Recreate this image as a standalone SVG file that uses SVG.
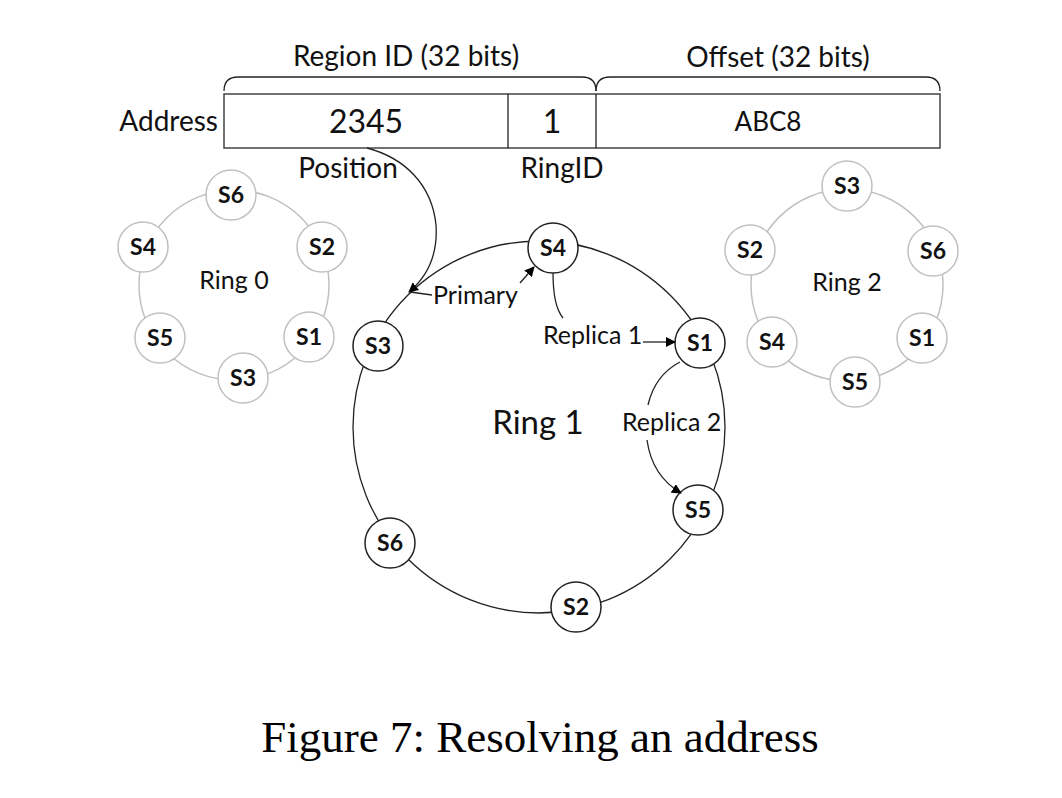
<svg xmlns="http://www.w3.org/2000/svg" width="1062" height="798" viewBox="0 0 1062 798">
<defs>
<marker id="ah" viewBox="0 0 10 10" refX="9" refY="5" markerWidth="10" markerHeight="10" markerUnits="userSpaceOnUse" orient="auto">
<path d="M0,0 L10,5 L0,10 Z" fill="#000"/>
</marker>
<style>
.lbl{font-family:Lato,"Open Sans",sans-serif;font-size:28px;fill:#111}
.big{font-family:Lato,"Open Sans",sans-serif;font-size:32px;fill:#111}
.sm{font-family:Lato,"Open Sans",sans-serif;font-size:25px;fill:#111}
.nt{font-family:Lato,"Open Sans",sans-serif;font-size:23px;font-weight:bold;fill:#111;text-anchor:middle}
.gring{fill:none;stroke:#c0c0c0;stroke-width:1.5}
.gnode circle{fill:#fff;stroke:#c0c0c0;stroke-width:1.5}
.bnode circle{fill:#fff;stroke:#222;stroke-width:1.5}
.box{fill:#fff;stroke:#444;stroke-width:1.5}
.ln{fill:none;stroke:#222;stroke-width:1.3}
</style>
</defs>
<rect width="1062" height="798" fill="#fff"/>

<!-- header -->
<g id="header">
<text class="lbl" x="406" y="66" text-anchor="middle">Region ID (32 bits)</text>
<text class="lbl" x="778" y="67" text-anchor="middle">Offset (32 bits)</text>
<path class="ln" d="M224,91 Q224,77 238,77 L582,77 Q596,77 596,91"/>
<path class="ln" d="M596,91 Q596,77 610,77 L926,77 Q940,77 940,91"/>
</g>
<g id="address">
<text class="lbl" x="218" y="131" text-anchor="end">Address</text>
<rect class="box" x="224" y="94" width="716" height="54"/>
<line class="ln" x1="508" y1="94" x2="508" y2="148"/>
<line class="ln" x1="596" y1="94" x2="596" y2="148"/>
<text class="big" x="366" y="133" text-anchor="middle">2345</text>
<text class="big" x="552" y="133" text-anchor="middle">1</text>
<text class="sm" x="768" y="131" text-anchor="middle" style="font-size:26px">ABC8</text>
<text class="lbl" x="348" y="178" text-anchor="middle">Position</text>
<text class="lbl" x="562" y="178" text-anchor="middle">RingID</text>
</g>

<!-- Ring 0 -->
<g id="ring0">
<circle class="gring" cx="234" cy="285" r="95"/>
<text class="sm" x="234" y="289" text-anchor="middle">Ring 0</text>
<g class="gnode" id="r0s6"><circle cx="231" cy="195" r="25"/><text class="nt" x="231" y="203">S6</text></g>
<g class="gnode" id="r0s4"><circle cx="143" cy="247" r="25"/><text class="nt" x="143" y="255">S4</text></g>
<g class="gnode" id="r0s2"><circle cx="322" cy="247" r="25"/><text class="nt" x="322" y="255">S2</text></g>
<g class="gnode" id="r0s5"><circle cx="160" cy="338" r="25"/><text class="nt" x="160" y="346">S5</text></g>
<g class="gnode" id="r0s1"><circle cx="309" cy="337" r="25"/><text class="nt" x="309" y="345">S1</text></g>
<g class="gnode" id="r0s3"><circle cx="243" cy="378" r="25"/><text class="nt" x="243" y="386">S3</text></g>
</g>

<!-- Ring 2 -->
<g id="ring2">
<circle class="gring" cx="847" cy="285" r="96"/>
<text class="sm" x="847" y="291" text-anchor="middle">Ring 2</text>
<g class="gnode" id="r2s3"><circle cx="847" cy="186" r="25"/><text class="nt" x="847" y="194">S3</text></g>
<g class="gnode" id="r2s2"><circle cx="750" cy="250" r="25"/><text class="nt" x="750" y="258">S2</text></g>
<g class="gnode" id="r2s6"><circle cx="933" cy="251" r="25"/><text class="nt" x="933" y="259">S6</text></g>
<g class="gnode" id="r2s4"><circle cx="772" cy="342" r="25"/><text class="nt" x="772" y="350">S4</text></g>
<g class="gnode" id="r2s1"><circle cx="922" cy="338" r="25"/><text class="nt" x="922" y="346">S1</text></g>
<g class="gnode" id="r2s5"><circle cx="855" cy="382" r="25"/><text class="nt" x="855" y="390">S5</text></g>
</g>

<!-- Ring 1 -->
<g id="ring1">
<circle cx="539" cy="427" r="186" fill="none" stroke="#222" stroke-width="1.3"/>
<text class="big" x="538" y="434" text-anchor="middle" style="font-size:33px">Ring 1</text>
<g class="bnode" id="r1s4"><circle cx="553" cy="248" r="25"/><text class="nt" x="553" y="256">S4</text></g>
<g class="bnode" id="r1s3"><circle cx="378" cy="346" r="25"/><text class="nt" x="378" y="354">S3</text></g>
<g class="bnode" id="r1s1"><circle cx="700" cy="343" r="25"/><text class="nt" x="700" y="351">S1</text></g>
<g class="bnode" id="r1s5"><circle cx="698" cy="510" r="25"/><text class="nt" x="698" y="518">S5</text></g>
<g class="bnode" id="r1s6"><circle cx="390" cy="543" r="25"/><text class="nt" x="390" y="551">S6</text></g>
<g class="bnode" id="r1s2"><circle cx="576" cy="607" r="25"/><text class="nt" x="576" y="615">S2</text></g>
</g>

<!-- connectors -->
<g id="connectors">
<path class="ln" d="M367,148 C405,158 432,185 436,225 C438,255 428,276 409,292" marker-end="url(#ah)"/>
<line class="ln" x1="410" y1="292" x2="432" y2="295"/>
<line class="ln" x1="520" y1="283" x2="534" y2="267" marker-end="url(#ah)"/>
<path class="ln" d="M553,273 Q553,306 563,318"/>
<line class="ln" x1="643" y1="342" x2="675" y2="342" marker-end="url(#ah)"/>
<path class="ln" d="M680,362 Q655,375 648,405"/>
<path class="ln" d="M647,440 Q652,476 681,493" marker-end="url(#ah)"/>
</g>
<g id="labels">
<text class="sm" x="433" y="304">Primary</text>
<text class="sm" x="543" y="344">Replica 1</text>
<text class="sm" x="622" y="431">Replica 2</text>
</g>

<text x="540" y="752" text-anchor="middle" font-family="Liberation Serif, serif" font-size="45" fill="#000">Figure 7: Resolving an address</text>
</svg>
